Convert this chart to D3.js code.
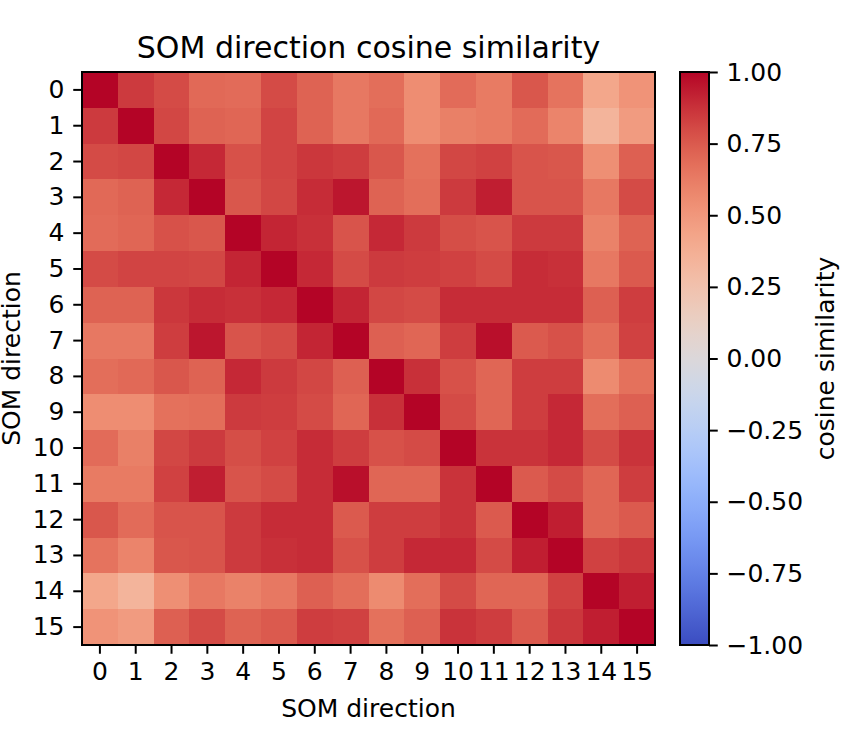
<!DOCTYPE html>
<html>
<head>
<meta charset="utf-8">
<script src="https://cdn.jsdelivr.net/npm/d3@7"></script>
<style>
  body { margin: 0; background: #fff; }
  svg text { font-family: "DejaVu Sans", sans-serif; fill: #000; }
</style>
</head>
<body>
<svg id="chart"></svg>
<script>
const width = 864;
const height = 756;

// 16 SOM directions
const directions = d3.range(16);

// cosine similarity matrix
const similarity = [
  [1.00, .85, .80, .70, .69, .80, .72, .64, .68, .55, .69, .63, .76, .66, .42, .52],
  [.85, 1.00, .81, .72, .71, .82, .72, .64, .70, .55, .61, .63, .69, .59, .34, .48],
  [.80, .81, 1.00, .90, .78, .82, .86, .84, .76, .67, .81, .83, .77, .76, .54, .73],
  [.70, .72, .90, 1.00, .76, .81, .89, .95, .72, .68, .85, .93, .77, .77, .64, .80],
  [.69, .71, .78, .76, 1.00, .91, .88, .77, .90, .85, .79, .77, .85, .85, .60, .72],
  [.80, .82, .82, .81, .91, 1.00, .90, .80, .85, .84, .83, .80, .89, .88, .64, .75],
  [.72, .72, .86, .89, .88, .90, 1.00, .91, .81, .80, .89, .89, .89, .89, .73, .84],
  [.64, .64, .84, .95, .77, .80, .91, 1.00, .73, .71, .84, .97, .75, .78, .68, .83],
  [.68, .70, .76, .72, .90, .85, .81, .73, 1.00, .88, .78, .71, .84, .84, .56, .67],
  [.55, .55, .67, .68, .85, .84, .80, .71, .88, 1.00, .80, .71, .84, .90, .68, .73],
  [.69, .61, .81, .85, .79, .83, .89, .84, .78, .80, 1.00, .87, .87, .90, .80, .87],
  [.63, .63, .83, .93, .77, .80, .89, .97, .71, .71, .87, 1.00, .75, .80, .71, .84],
  [.76, .69, .77, .77, .85, .89, .89, .75, .84, .84, .87, .75, 1.00, .93, .71, .75],
  [.66, .59, .76, .77, .85, .88, .89, .78, .84, .90, .90, .80, .93, 1.00, .83, .86],
  [.42, .34, .54, .64, .60, .64, .73, .68, .56, .68, .80, .71, .71, .83, 1.00, .93],
  [.52, .48, .73, .80, .72, .75, .84, .83, .67, .73, .87, .84, .75, .86, .93, 1.00]
];

const colorbarTicks = [-1, -0.75, -0.5, -0.25, 0, 0.25, 0.5, 0.75, 1];

// matplotlib coolwarm anchors
const coolwarm = d3.interpolateRgbBasis([
  "rgb(59,76,192)", "rgb(98,130,234)", "rgb(141,176,254)", "rgb(184,208,249)",
  "rgb(221,221,221)", "rgb(245,196,173)", "rgb(244,154,123)", "rgb(222,96,77)",
  "rgb(180,4,38)"
]);
const color = v => coolwarm((v + 1) / 2);

const svg = d3.select("#chart")
  .attr("width", width)
  .attr("height", height);

const plotLeft = 82, plotTop = 72, plotSize = 573;
const tickLen = 8.75, tickPad = 8.75, lineW = 2, fontSize = 25;

const x = d3.scaleBand().domain(directions).range([plotLeft, plotLeft + plotSize]);
const y = d3.scaleBand().domain(directions).range([plotTop, plotTop + plotSize]);

const cells = [];
similarity.forEach((row, i) => row.forEach((v, j) => cells.push({ i, j, v })));

svg.append("g")
  .selectAll("rect")
  .data(cells)
  .enter().append("rect")
  .attr("x", d => x(d.j))
  .attr("y", d => y(d.i))
  .attr("width", x.bandwidth() + 0.5)
  .attr("height", y.bandwidth() + 0.5)
  .attr("fill", d => color(d.v))
  .attr("shape-rendering", "crispEdges");

// axes
const xAxis = svg.append("g")
  .attr("transform", `translate(0,${plotTop + plotSize})`)
  .call(d3.axisBottom(x).tickSizeOuter(0).tickSize(tickLen).tickPadding(tickPad));
const yAxis = svg.append("g")
  .attr("transform", `translate(${plotLeft},0)`)
  .call(d3.axisLeft(y).tickSizeOuter(0).tickSize(tickLen).tickPadding(tickPad));

[xAxis, yAxis].forEach(g => {
  g.attr("font-size", fontSize).attr("font-family", "DejaVu Sans");
  g.select(".domain").remove();
  g.selectAll(".tick line").attr("stroke", "#000").attr("stroke-width", lineW);
});

svg.append("rect")
  .attr("x", plotLeft).attr("y", plotTop)
  .attr("width", plotSize).attr("height", plotSize)
  .attr("fill", "none").attr("stroke", "#000").attr("stroke-width", lineW);

svg.append("text")
  .attr("x", plotLeft + plotSize / 2).attr("y", 58)
  .attr("text-anchor", "middle")
  .attr("font-size", 30)
  .text("SOM direction cosine similarity");

svg.append("text")
  .attr("x", plotLeft + plotSize / 2).attr("y", 717)
  .attr("text-anchor", "middle")
  .attr("font-size", fontSize)
  .text("SOM direction");

svg.append("text")
  .attr("transform", `translate(20,${plotTop + plotSize / 2}) rotate(-90)`)
  .attr("text-anchor", "middle")
  .attr("font-size", fontSize)
  .text("SOM direction");

// colorbar
const cbX = 680, cbW = 29;
const cbScale = d3.scaleLinear().domain([-1, 1]).range([plotTop + plotSize, plotTop]);

const defs = svg.append("defs");
const grad = defs.append("linearGradient")
  .attr("id", "cbgrad")
  .attr("x1", 0).attr("y1", 1).attr("x2", 0).attr("y2", 0);
grad.selectAll("stop")
  .data(d3.range(0, 1.0001, 0.02))
  .enter().append("stop")
  .attr("offset", t => t)
  .attr("stop-color", t => coolwarm(t));

svg.append("rect")
  .attr("x", cbX).attr("y", plotTop)
  .attr("width", cbW).attr("height", plotSize)
  .attr("fill", "url(#cbgrad)")
  .attr("stroke", "#000").attr("stroke-width", lineW);

const cbAxis = svg.append("g")
  .attr("transform", `translate(${cbX + cbW},0)`)
  .call(d3.axisRight(cbScale)
    .tickValues(colorbarTicks)
    .tickFormat(d => d3.format(".2f")(d).replace("-", "\u2212"))
    .tickSize(tickLen).tickPadding(tickPad).tickSizeOuter(0));
cbAxis.attr("font-size", fontSize).attr("font-family", "DejaVu Sans");
cbAxis.select(".domain").remove();
cbAxis.selectAll(".tick line").attr("stroke", "#000").attr("stroke-width", lineW);

svg.append("text")
  .attr("transform", `translate(834,${plotTop + plotSize / 2}) rotate(-90)`)
  .attr("text-anchor", "middle")
  .attr("font-size", fontSize)
  .text("cosine similarity");
</script>
</body>
</html>
